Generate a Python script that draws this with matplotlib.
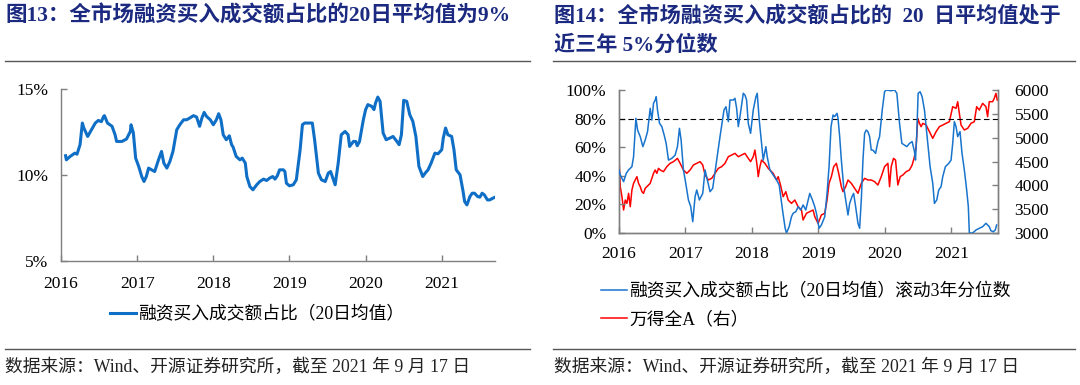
import matplotlib
matplotlib.use("Agg")
from matplotlib import pyplot as plt
from matplotlib.lines import Line2D
from matplotlib.ticker import FuncFormatter

plt.rcParams['font.family'] = ['Liberation Serif', 'Noto Sans CJK SC']

# left chart: margin buying share of turnover (20d avg), %
shareYears = [2016.06, 2016.07, 2016.12, 2016.15, 2016.18, 2016.21, 2016.25, 2016.28, 2016.30, 2016.35,
              2016.40, 2016.45, 2016.49, 2016.53, 2016.56, 2016.57, 2016.61, 2016.67, 2016.71, 2016.73,
              2016.80, 2016.86, 2016.91, 2016.92, 2016.95, 2016.98, 2017.02, 2017.06, 2017.09, 2017.12,
              2017.15, 2017.19, 2017.23, 2017.28, 2017.32, 2017.35, 2017.39, 2017.43, 2017.47, 2017.52,
              2017.56, 2017.61, 2017.65, 2017.69, 2017.74, 2017.78, 2017.82, 2017.85, 2017.88, 2017.91,
              2017.96, 2018.00, 2018.04, 2018.07, 2018.10, 2018.13, 2018.17, 2018.21, 2018.24, 2018.26,
              2018.30, 2018.35, 2018.38, 2018.42, 2018.44, 2018.48, 2018.52, 2018.57, 2018.61, 2018.66,
              2018.70, 2018.74, 2018.78, 2018.81, 2018.84, 2018.87, 2018.92, 2018.94, 2018.96, 2019.00,
              2019.05, 2019.09, 2019.14, 2019.17, 2019.20, 2019.23, 2019.27, 2019.30, 2019.33, 2019.38,
              2019.42, 2019.47, 2019.51, 2019.54, 2019.57, 2019.60, 2019.64, 2019.68, 2019.73, 2019.77,
              2019.79, 2019.84, 2019.87, 2019.89, 2019.92, 2019.97, 2020.00, 2020.03, 2020.08, 2020.11,
              2020.13, 2020.16, 2020.19, 2020.23, 2020.27, 2020.32, 2020.36, 2020.41, 2020.44, 2020.47,
              2020.50, 2020.54, 2020.58, 2020.62, 2020.66, 2020.70, 2020.75, 2020.79, 2020.82, 2020.86,
              2020.91, 2020.95, 2021.00, 2021.02, 2021.05, 2021.08, 2021.13, 2021.16, 2021.19, 2021.24,
              2021.28, 2021.30, 2021.33, 2021.37, 2021.40, 2021.43, 2021.47, 2021.50, 2021.53, 2021.56,
              2021.60, 2021.63, 2021.67, 2021.70]
shareValues = [11.12, 10.88, 11.08, 11.17, 11.27, 11.21, 11.76, 13.02, 12.73, 12.24,
               12.63, 13.02, 13.17, 13.10, 13.41, 13.45, 13.02, 12.83, 12.34, 11.95,
               11.95, 12.09, 12.53, 12.92, 12.44, 10.98, 10.50, 9.91, 9.62, 9.91,
               10.40, 10.30, 10.20, 10.88, 11.37, 10.69, 10.40, 10.79, 11.37, 12.63,
               12.92, 13.21, 13.21, 13.31, 13.45, 13.37, 12.83, 13.31, 13.64, 13.41,
               13.21, 12.92, 13.21, 13.56, 13.21, 12.34, 12.05, 12.28, 11.76, 11.62,
               11.08, 10.88, 10.98, 10.69, 9.91, 9.33, 9.14, 9.43, 9.62, 9.76,
               9.68, 9.82, 9.91, 9.76, 9.95, 10.30, 10.30, 10.20, 9.52, 9.37,
               9.43, 9.72, 11.47, 12.92, 13.02, 13.02, 13.02, 13.02, 12.05, 10.11,
               9.72, 9.62, 10.11, 10.20, 9.82, 9.43, 10.69, 12.34, 12.53, 12.34,
               11.66, 11.95, 11.95, 11.70, 11.95, 13.21, 13.80, 14.09, 13.99, 13.80,
               14.18, 14.53, 14.28, 12.44, 12.05, 12.15, 12.24, 11.95, 11.76, 12.34,
               14.34, 14.28, 13.50, 13.12, 12.24, 10.50, 9.91, 10.15, 10.30, 10.69,
               11.27, 11.23, 11.47, 12.15, 12.73, 12.34, 12.24, 11.47, 10.30, 10.01,
               9.04, 8.46, 8.26, 8.75, 8.94, 8.94, 8.75, 8.71, 8.94, 8.84,
               8.55, 8.55, 8.65, 8.71]

# right chart: rolling 3y percentile (%) and Wind All A index
pctYears = [2016.000, 2016.020, 2016.070, 2016.110, 2016.145, 2016.195, 2016.220, 2016.255, 2016.280, 2016.320,
            2016.360, 2016.395, 2016.430, 2016.470, 2016.495, 2016.520, 2016.545, 2016.560, 2016.580, 2016.610,
            2016.645, 2016.680, 2016.710, 2016.745, 2016.795, 2016.845, 2016.880, 2016.910, 2016.935, 2016.970,
            2017.005, 2017.045, 2017.080, 2017.110, 2017.145, 2017.170, 2017.210, 2017.260, 2017.295, 2017.330,
            2017.370, 2017.410, 2017.470, 2017.520, 2017.580, 2017.610, 2017.645, 2017.670, 2017.720, 2017.745,
            2017.770, 2017.795, 2017.820, 2017.870, 2017.895, 2017.920, 2017.945, 2017.980, 2018.020, 2018.060,
            2018.080, 2018.110, 2018.130, 2018.170, 2018.210, 2018.230, 2018.270, 2018.320, 2018.370, 2018.410,
            2018.460, 2018.500, 2018.520, 2018.560, 2018.595, 2018.620, 2018.660, 2018.695, 2018.735, 2018.770,
            2018.810, 2018.870, 2018.910, 2018.945, 2018.970, 2019.010, 2019.045, 2019.095, 2019.130, 2019.160,
            2019.190, 2019.220, 2019.245, 2019.280, 2019.295, 2019.320, 2019.345, 2019.380, 2019.410, 2019.445,
            2019.470, 2019.505, 2019.530, 2019.560, 2019.595, 2019.620, 2019.645, 2019.670, 2019.695, 2019.720,
            2019.745, 2019.770, 2019.795, 2019.820, 2019.860, 2019.895, 2019.920, 2019.960, 2019.995, 2020.020,
            2020.095, 2020.145, 2020.180, 2020.220, 2020.255, 2020.295, 2020.330, 2020.370, 2020.410, 2020.445,
            2020.460, 2020.480, 2020.500, 2020.530, 2020.560, 2020.595, 2020.620, 2020.645, 2020.680, 2020.720,
            2020.745, 2020.780, 2020.810, 2020.845, 2020.870, 2020.910, 2020.960, 2020.995, 2021.020, 2021.045,
            2021.070, 2021.095, 2021.130, 2021.160, 2021.195, 2021.230, 2021.255, 2021.270, 2021.320, 2021.370,
            2021.420, 2021.470, 2021.520, 2021.545, 2021.570, 2021.595, 2021.630, 2021.660, 2021.680]
pctValues = [44.1, 40.6, 35.9, 41.7, 44.1, 46.4, 53.4, 80.2, 72.0, 67.4,
             60.4, 65.0, 70.9, 87.2, 79.0, 90.7, 93.0, 95.3, 86.0, 76.7,
             74.4, 68.5, 62.7, 51.0, 52.2, 54.5, 60.4, 73.2, 65.0, 44.1,
             34.7, 23.1, 18.4, 7.9, 25.4, 30.1, 23.1, 27.7, 44.1, 37.1,
             28.9, 31.2, 51.0, 67.4, 86.0, 88.3, 77.9, 93.0, 93.0, 94.2,
             87.2, 74.4, 81.4, 97.7, 96.5, 93.0, 76.7, 69.7, 86.0, 95.3,
             97.7, 79.0, 69.7, 51.0, 60.4, 53.4, 44.1, 40.6, 37.1, 33.6,
             16.1, 3.3, 0.0, 4.4, 11.4, 13.8, 14.9, 18.4, 16.1, 19.6,
             16.1, 27.7, 23.1, 18.4, 13.8, 3.3, 5.6, 11.4, 27.7, 46.4,
             74.4, 82.5, 81.4, 83.7, 80.2, 67.4, 51.0, 32.4, 23.1, 12.6,
             20.7, 25.4, 27.7, 18.4, 6.8, 3.3, 23.1, 51.0, 69.7, 72.0,
             70.9, 67.4, 58.0, 58.0, 55.7, 63.9, 67.4, 86.0, 98.8, 100.0,
             99.5, 100.0, 97.7, 76.7, 62.7, 61.5, 60.4, 62.7, 63.9, 56.9,
             51.0, 69.7, 97.7, 98.8, 95.3, 86.0, 74.4, 62.7, 46.4, 34.7,
             20.7, 23.1, 30.1, 32.4, 39.4, 46.4, 48.7, 51.0, 62.7, 77.9,
             74.4, 67.4, 70.9, 55.7, 44.1, 30.1, 18.4, 0.0, 0.0, 2.1,
             3.3, 4.4, 6.8, 5.6, 4.4, 1.6, 0.9, 2.1, 5.6]

indexYears = [2016.000, 2016.020, 2016.045, 2016.070, 2016.095, 2016.120, 2016.145, 2016.170, 2016.195, 2016.220,
              2016.245, 2016.270, 2016.295, 2016.320, 2016.345, 2016.370, 2016.395, 2016.420, 2016.470, 2016.520,
              2016.545, 2016.570, 2016.595, 2016.620, 2016.670, 2016.720, 2016.770, 2016.820, 2016.880, 2016.920,
              2016.970, 2017.020, 2017.070, 2017.120, 2017.170, 2017.220, 2017.260, 2017.295, 2017.345, 2017.395,
              2017.445, 2017.495, 2017.545, 2017.595, 2017.645, 2017.695, 2017.745, 2017.795, 2017.845, 2017.895,
              2017.945, 2017.980, 2018.020, 2018.045, 2018.080, 2018.095, 2018.120, 2018.145, 2018.195, 2018.245,
              2018.270, 2018.320, 2018.370, 2018.395, 2018.430, 2018.470, 2018.510, 2018.545, 2018.595, 2018.645,
              2018.695, 2018.745, 2018.770, 2018.820, 2018.870, 2018.920, 2018.945, 2018.995, 2019.045, 2019.095,
              2019.130, 2019.160, 2019.195, 2019.230, 2019.270, 2019.305, 2019.345, 2019.370, 2019.410, 2019.445,
              2019.495, 2019.545, 2019.595, 2019.645, 2019.695, 2019.745, 2019.795, 2019.845, 2019.895, 2019.945,
              2019.995, 2020.045, 2020.070, 2020.095, 2020.130, 2020.160, 2020.195, 2020.230, 2020.270, 2020.320,
              2020.370, 2020.410, 2020.445, 2020.470, 2020.495, 2020.520, 2020.545, 2020.570, 2020.620, 2020.670,
              2020.720, 2020.770, 2020.820, 2020.870, 2020.920, 2020.970, 2021.020, 2021.070, 2021.095, 2021.120,
              2021.145, 2021.195, 2021.245, 2021.295, 2021.345, 2021.380, 2021.420, 2021.470, 2021.520, 2021.545,
              2021.570, 2021.620, 2021.645, 2021.670, 2021.690]
indexValues = [4601, 3972, 3762, 3483, 3692, 3622, 3832, 3552, 3902, 4042,
               4112, 4182, 4042, 3972, 3867, 3832, 3937, 3972, 4042, 4252,
               4322, 4252, 4357, 4322, 4287, 4392, 4462, 4497, 4566, 4462,
               4322, 4252, 4322, 4427, 4462, 4497, 4427, 4217, 4112, 4147,
               4252, 4357, 4392, 4462, 4601, 4636, 4671, 4601, 4636, 4671,
               4566, 4497, 4601, 4741, 4392, 4182, 4392, 4531, 4462, 4357,
               4322, 4252, 4112, 4182, 4007, 3762, 3867, 3692, 3622, 3692,
               3552, 3483, 3273, 3413, 3448, 3483, 3343, 3203, 3378, 3413,
               3692, 4042, 4182, 4392, 4462, 4252, 3972, 3867, 3972, 4112,
               4042, 3937, 3832, 4042, 4147, 4112, 4112, 4077, 4007, 4182,
               4392, 4462, 3972, 4392, 4566, 4531, 4007, 4182, 4217, 4287,
               4322, 4427, 4601, 4811, 5406, 5301, 5231, 5301, 5266, 5126,
               4986, 5126, 5231, 5266, 5301, 5336, 5650, 5615, 5755, 5510,
               5266, 5161, 5196, 5301, 5336, 5650, 5580, 5720, 5650, 5441,
               5755, 5755, 5825, 5930, 5790]

yearTicks = [2016, 2017, 2018, 2019, 2020, 2021]

titleColor = '#1B2A80'
spineColor = '#7f7f7f'
tickSize = 12.5


def styleAxis(ax, sides, xpad):
    for side in ['top', 'right', 'left', 'bottom']:
        ax.spines[side].set_visible(side in sides)
        ax.spines[side].set_color(spineColor)
        ax.spines[side].set_linewidth(1.0)
    ax.tick_params(direction='in', length=4, width=1, color=spineColor, labelsize=tickSize)
    ax.tick_params(axis='x', pad=xpad)
    ax.tick_params(axis='y', pad=9)
    ax.set_xticks(yearTicks)
    ax.set_xticklabels([str(y) for y in yearTicks])
    ax.set_xlim(2016, 2021.7)


fig = plt.figure(figsize=(10.8, 3.85), dpi=100)

# ---- left chart
ax1 = fig.add_axes([0.0565, 0.3221, 0.4019, 0.4468])
line1, = ax1.plot(shareYears, [v / 100 for v in shareValues], color='#0F6FC6', linewidth=2.2,
                  label='融资买入成交额占比（20日均值）')
ax1.set_ylim(0.05, 0.15)
ax1.set_yticks([0.05, 0.10, 0.15])
ax1.yaxis.set_major_formatter(FuncFormatter(lambda v, p: '%d%%' % round(v * 100)))
styleAxis(ax1, ['left', 'bottom'], 11)
fig.legend(handles=[line1], loc='center', bbox_to_anchor=(0.238, 0.182), frameon=False,
           fontsize=12.8, handlelength=1.45, handletextpad=0.15)

# ---- right chart
ax2 = fig.add_axes([0.5731, 0.3948, 0.3509, 0.3714])
ax3 = ax2.twinx()
line2, = ax2.plot(pctYears, [v / 100 for v in pctValues], color='#1874CD', linewidth=1.1,
                  label='融资买入成交额占比（20日均值）滚动3年分位数', zorder=3)
line3, = ax3.plot(indexYears, indexValues, color='#FF0000', linewidth=1.1, label='万得全A（右）')
ax2.axhline(0.8, color='black', linestyle=(0, (5, 3)), linewidth=0.8)
ax2.set_zorder(ax3.get_zorder() + 1)
ax2.patch.set_visible(False)
ax2.set_ylim(0, 1)
ax2.set_yticks([0, 0.2, 0.4, 0.6, 0.8, 1.0])
ax2.yaxis.set_major_formatter(FuncFormatter(lambda v, p: '%d%%' % round(v * 100)))
ax3.set_ylim(3000, 6000)
ax3.set_yticks(range(3000, 6001, 500))
styleAxis(ax2, ['left', 'bottom', 'right'], 9)
styleAxis(ax3, ['left', 'bottom', 'right'], 9)
ax3.tick_params(axis='y', pad=12)
fig.legend(handles=[line2, line3], loc='upper left', bbox_to_anchor=(0.548, 0.287), frameon=False,
           fontsize=12.8, handlelength=1.45, handletextpad=0.15, labelspacing=0.62, borderpad=0)

# ---- titles, rules, sources
fig.text(0.005, 0.958, '图13：全市场融资买入成交额占比的20日平均值为9%', fontsize=15.5,
         fontweight='bold', color=titleColor, va='center', ha='left')
fig.text(0.513, 0.958, '图14：全市场融资买入成交额占比的  20  日平均值处于', fontsize=15.2,
         fontweight='bold', color=titleColor, va='center', ha='left')
fig.text(0.513, 0.883, '近三年 5%分位数', fontsize=15.2,
         fontweight='bold', color=titleColor, va='center', ha='left')

for x0, x1 in [(0.005, 0.491), (0.512, 0.995)]:
    fig.add_artist(Line2D([x0, x1], [0.842, 0.842], color='#555555', linewidth=1.0))
    fig.add_artist(Line2D([x0, x1], [0.094, 0.094], color='#555555', linewidth=1.0))

source = '数据来源：Wind、开源证券研究所，截至 2021 年 9 月 17 日'
fig.text(0.005, 0.047, source, fontsize=12.8, va='center', ha='left', color='#222222')
fig.text(0.513, 0.047, source, fontsize=12.8, va='center', ha='left', color='#222222')

fig.savefig('out.png', dpi=100)
